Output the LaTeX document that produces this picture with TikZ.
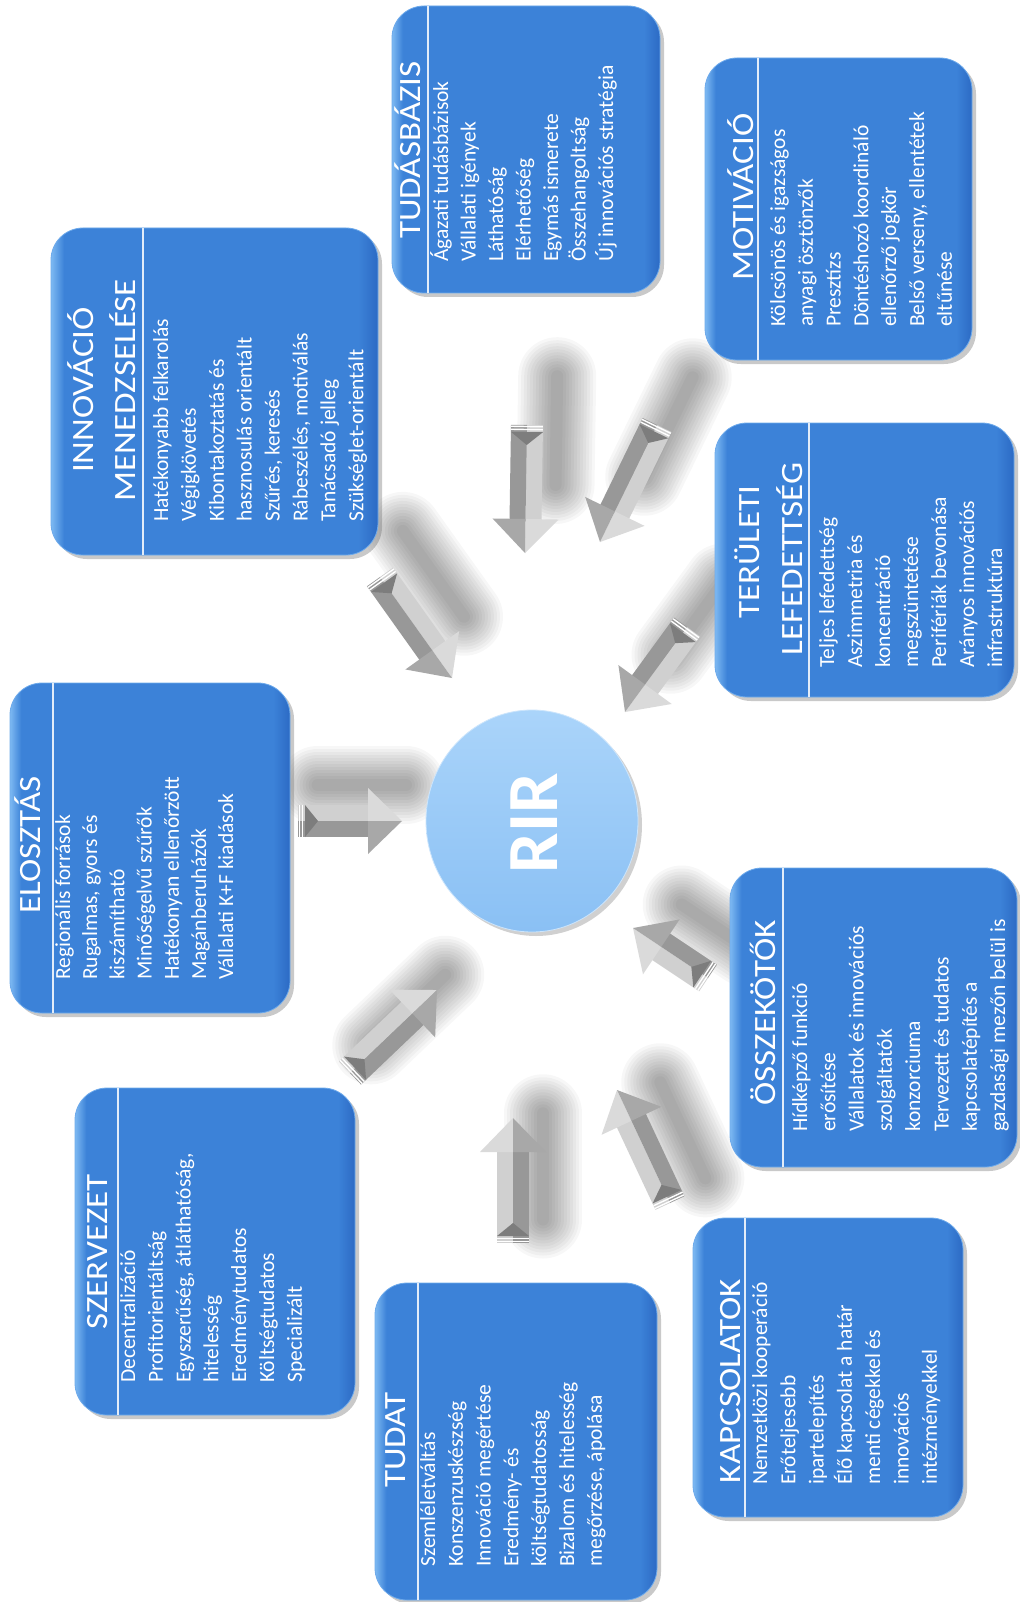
\documentclass[tikz,border=0pt]{standalone}
\usepackage{fontspec}
\setmainfont{Carlito}
\usetikzlibrary{calc,shapes.geometric,shadows}
\definecolor{bxL}{RGB}{125,185,242}
\definecolor{bxM}{RGB}{60,130,216}
\definecolor{bxD}{RGB}{44,106,196}
\definecolor{bxE}{RGB}{110,170,235}
\definecolor{rirT}{RGB}{170,212,250}
\definecolor{rirB}{RGB}{138,192,244}
\definecolor{arL}{RGB}{208,208,208}
\definecolor{arD}{RGB}{152,152,152}
\definecolor{arHL}{RGB}{218,218,218}
\definecolor{arHD}{RGB}{168,168,168}
\definecolor{arT}{RGB}{125,125,125}
\pgfdeclarehorizontalshading{boxshade}{100bp}{color(0bp)=(bxL); color(25bp)=(bxL); color(27bp)=(bxM); color(72bp)=(bxM); color(75bp)=(bxD); color(100bp)=(bxD)}
\tikzset{
  card/.style={rectangle, rounded corners=32, inner sep=0, shade, shading=boxshade,
    draw=bxE, line width=0.8,
    drop shadow={shadow xshift=4pt, shadow yshift=-4pt, opacity=0.35, fill=black!60}},
  divline/.style={white!85!bxM, line width=1.1},
  itemtxt/.style={rotate=90, anchor=base west, inner sep=0, text=white,
    font=\fontsize{21.5}{26}\selectfont},
  ttltxt/.style={rotate=90, xscale=1.13, anchor=base, inner sep=0, text=white,
    font=\fontsize{31}{36}\selectfont},
  rirnode/.style={ellipse, minimum width=212, minimum height=222, inner sep=0,
    top color=rirT, bottom color=rirB, draw=rirT!60!white, line width=0.8,
    drop shadow={shadow xshift=4pt, shadow yshift=-4pt, opacity=0.3, fill=black!60}},
  rirtxt/.style={rotate=90, inner sep=0, text=white, font=\fontsize{72}{80}\selectfont\bfseries},
  barrow/.pic={
    \fill[arL] (0,-16) -- ({#1-32},-16) -- ({#1-32},0) -- (0,0) -- cycle;
    \fill[arD] (0,0) -- ({#1-32},0) -- ({#1-32},16) -- (0,16) -- cycle;
    \fill[arHL] ({#1-34},-33) -- (#1,0) -- ({#1-34},0) -- cycle;
    \fill[arHD] ({#1-34},33) -- (#1,0) -- ({#1-34},0) -- cycle;
    \fill[arT] (7,-16) -- (20,0) -- (7,16) -- cycle;
    \draw[white, line width=1.4] (1.5,-16) -- (1.5,16) (4.5,-16) -- (4.5,16);
  }
}
\newcommand\card[6]{%
  \node[card, minimum width={#4-#2}, minimum height={#5-#3}] (#1) at ({(#2+#4)/2},{(#3+#5)/2}) {};
  \draw[divline] (#6,#3) -- (#6,#5);}
\newcommand\itemlist[5]{%
  \foreach \t [count=\i from 0] in {#5} {\node[itemtxt] (#1-\i) at ({#2+\i*#4},#3) {\t};}}
\newcommand\gearrow[2]{%
  \path let \p1=($(#2)-(#1)$), \n1={atan2(\y1,\x1)}, \n2={veclen(\x1,\y1)} in (#1) pic[rotate=\n1] {barrow=\n2};}
\newcommand\arrshade[2]{%
  \foreach \w in {78,72,66,60,54,48,42,36,30,24,18,12}{\draw[black, opacity=0.03, line width=\w, line cap=round]
    ($(#1)!-0.1!(#2)+(30,-36)$) -- ($(#1)!0.75!(#2)+(30,-36)$);}}
\begin{document}
\begin{tikzpicture}[x=1pt, y=-1pt]
\useasboundingbox (0,0) rectangle (1019,1602);
\fill[white] (0,0) rectangle (1019,1602);
% arrow end points
\coordinate (a1t) at (527,425);  \coordinate (a1h) at (525,553);
\coordinate (a2t) at (657,425);  \coordinate (a2h) at (600,542);
\coordinate (a3t) at (380,577);  \coordinate (a3h) at (452,678);
\coordinate (a4t) at (687,627);  \coordinate (a4h) at (625,712);
\coordinate (a5t) at (298,821);  \coordinate (a5h) at (402,821);
\coordinate (a6t) at (708,978);  \coordinate (a6h) at (633,928);
\coordinate (a7t) at (350,1073); \coordinate (a7h) at (437,990);
\coordinate (a8t) at (513,1243); \coordinate (a8h) at (513,1118);
\coordinate (a9t) at (670,1203); \coordinate (a9h) at (617,1090);
% arrow shadows
\arrshade{a1t}{a1h}\arrshade{a2t}{a2h}\arrshade{a3t}{a3h}
\arrshade{a4t}{a4h}\arrshade{a5t}{a5h}\arrshade{a6t}{a6h}
\arrshade{a7t}{a7h}\arrshade{a8t}{a8h}\arrshade{a9t}{a9h}
% boxes
\card{tud}{392}{6}{660}{293}{428}
\card{mot}{705}{58}{972}{360}{758}
\card{inn}{51}{228}{378}{555}{143}
\card{ter}{715}{423}{1014}{697}{809}
\card{elo}{10}{683}{290}{1013}{53}
\card{oss}{730}{868}{1017}{1167}{783}
\card{sze}{75}{1088}{355}{1415}{118}
\card{kap}{693}{1218}{963}{1517}{745}
\card{tdt}{375}{1283}{657}{1600}{418}
% centre
\node[rirnode] (rir) at (532,821) {};
\node[rirtxt] (rir-t) at (534,823) {RIR};
% arrows
\gearrow{a1t}{a1h}\gearrow{a2t}{a2h}\gearrow{a3t}{a3h}
\gearrow{a4t}{a4h}\gearrow{a5t}{a5h}\gearrow{a6t}{a6h}
\gearrow{a7t}{a7h}\gearrow{a8t}{a8h}\gearrow{a9t}{a9h}
% titles
\node[ttltxt] (tud-t) at (420,150) {TUDÁSBÁZIS};
\node[ttltxt] (mot-t) at (753,197) {MOTIVÁCIÓ};
\node[ttltxt] (inn-t1) at (93,390) {INNOVÁCIÓ};
\node[ttltxt] (inn-t2) at (135,390) {MENEDZSELÉSE};
\node[ttltxt] (ter-t1) at (759,552) {TERÜLETI};
\node[ttltxt] (ter-t2) at (802,559) {LEFEDETTSÉG};
\node[ttltxt] (elo-t) at (40,845) {ELOSZTÁS};
\node[ttltxt] (oss-t) at (775,1013) {ÖSSZEKÖTŐK};
\node[ttltxt] (sze-t) at (107,1252) {SZERVEZET};
\node[ttltxt] (kap-t) at (740,1381) {KAPCSOLATOK};
\node[ttltxt] (tdt-t) at (405,1440) {TUDAT};
% lists
\itemlist{tudl}{448}{262}{27.5}{Ágazati tudásbázisok, Vállalati igények, Láthatóság, Elérhetőség, Egymás ismerete, Összehangoltság, Új innovációs stratégia}
\itemlist{motl}{785}{327}{27.8}{Kölcsönös és igazságos, anyagi ösztönzők, Presztízs, Döntéshozó koordináló, ellenőrző jogkör, {Belső verseny, ellentétek}, eltűnése}
\itemlist{innl}{168}{522}{27.9}{Hatékonyabb felkarolás, Végigkövetés, Kibontakoztatás  és, hasznosulás orientált, {Szűrés, keresés}, {Rábeszélés, motiválás}, Tanácsadó jelleg, Szükséglet-orientált}
\itemlist{terl}{834}{668}{28}{Teljes lefedettség, Aszimmetria  és, koncentráció, megszüntetése, Perifériák bevonása, Arányos innovációs, infrastruktúra}
\itemlist{elol}{70}{980}{27.2}{Regionális források, {Rugalmas, gyors és}, kiszámítható, Minőségelvű szűrők, Hatékonyan ellenőrzött, Magánberuházók, Vállalati K+F kiadások}
\itemlist{ossl}{807}{1132}{28.3}{Hídképző funkció, erősítése, Vállalatok és innovációs, szolgáltatók, konzorciuma, Tervezett és tudatos, kapcsolatépítés a, gazdasági mezőn belül is}
\itemlist{szel}{135}{1383}{27.8}{Decentralizáció, Profitorientáltság, {Egyszerűség, átláthatóság,}, hitelesség, Eredménytudatos, Költségtudatos, Specializált}
\itemlist{kapl}{767}{1485}{28.3}{Nemzetközi kooperáció, Erőteljesebb, ipartelepítés, Élő kapcsolat a határ, menti cégekkel és, innovációs, intézményekkel}
\itemlist{tdtl}{435}{1567}{27.8}{Szemléletváltás, Konszenzuskészség, Innováció megértése, Eredmény- és, költségtudatosság, Bizalom és hitelesség, {megőrzése, ápolása}}
\end{tikzpicture}
\end{document}
